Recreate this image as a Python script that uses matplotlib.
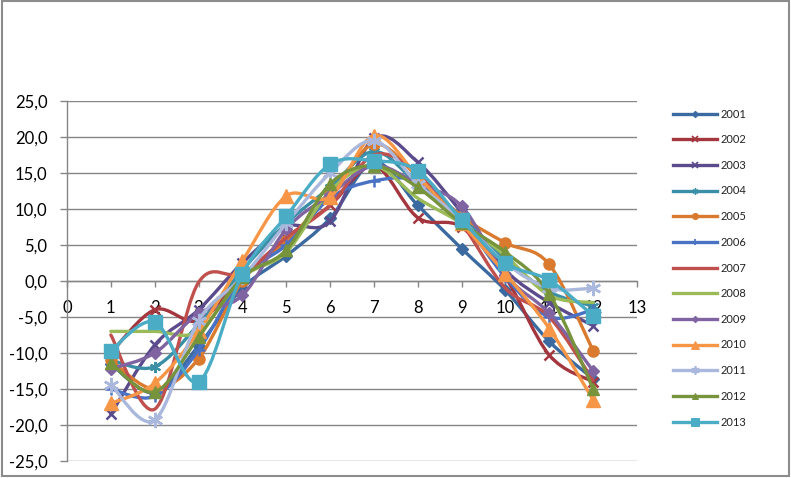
import matplotlib
matplotlib.use("Agg")
import matplotlib.pyplot as plt
from matplotlib.path import Path
from matplotlib.patches import PathPatch, Rectangle
from matplotlib.lines import Line2D
from matplotlib.ticker import FuncFormatter, MultipleLocator
import numpy as np

plt.rcParams["font.family"] = ["Lato", "DejaVu Sans"]

months = [1, 2, 3, 4, 5, 6, 7, 8, 9, 10, 11, 12]
years = ["2001", "2002", "2003", "2004", "2005", "2006", "2007",
         "2008", "2009", "2010", "2011", "2012", "2013"]

t2001 = [-11.5, -15.5, -9.0, -1.0, 3.5, 8.7, 16.5, 10.5, 4.5, -1.3, -8.4, -13.6]
t2002 = [-10.0, -4.0, -5.5, 0.5, 6.0, 10.5, 16.0, 8.8, 7.5, 0.5, -10.3, -14.0]
t2003 = [-18.5, -8.9, -4.0, 2.5, 7.5, 8.3, 19.8, 16.5, 9.5, 1.5, -3.0, -6.2]
t2004 = [-11.0, -11.9, -6.0, 1.5, 8.0, 13.0, 18.0, 13.5, 9.0, 3.0, -1.5, -3.5]
t2005 = [-11.0, -15.0, -10.8, 0.0, 5.5, 12.0, 19.0, 14.5, 9.0, 5.3, 2.3, -9.7]
t2006 = [-15.0, -16.0, -9.6, 0.5, 5.0, 11.5, 13.9, 13.8, 8.5, 0.5, -5.0, -4.0]
t2007 = [-7.5, -17.8, -0.2, 1.0, 6.0, 10.5, 17.5, 15.0, 8.0, -1.0, -5.0, -13.8]
t2008 = [-7.0, -7.0, -7.0, 0.5, 4.0, 12.5, 16.0, 11.5, 8.0, 3.5, -2.0, -3.0]
t2009 = [-12.2, -10.0, -4.5, -2.0, 7.2, 12.0, 16.0, 13.5, 10.4, 0.8, -4.5, -12.5]
t2010 = [-17.0, -14.2, -7.0, 2.8, 11.8, 11.7, 20.2, 14.5, 8.0, 1.0, -6.6, -16.5]
t2011 = [-14.4, -19.3, -5.5, 0.5, 8.0, 15.0, 19.5, 13.5, 8.5, 2.5, -1.0, -1.0]
t2012 = [-11.4, -15.4, -7.8, 0.5, 4.3, 13.5, 16.0, 13.0, 8.0, 4.0, -1.8, -15.0]
t2013 = [-9.7, -5.7, -14.0, 1.0, 9.0, 16.2, 16.7, 15.3, 8.5, 2.5, 0.1, -4.8]

series = [t2001, t2002, t2003, t2004, t2005, t2006, t2007,
          t2008, t2009, t2010, t2011, t2012, t2013]

colors = ["#3B6AA0", "#A3363E", "#5B4B8C", "#3A8FA6", "#D97A2E", "#4A72C4",
          "#C0504D", "#9BBB59", "#8064A2", "#F79646", "#A9B8DC", "#77933C",
          "#4BACC6"]
# (marker, size, edge width)
markers = [("D", 6, 1), ("x", 7, 1.8), ("x", 7, 1.8), ((6, 2, 0), 8, 1.5),
           ("o", 8, 1), ("+", 8, 1.8), (None, 0, 0), (None, 0, 0),
           ("D", 6, 1), ("^", 10, 1), ((6, 2, 0), 11, 1.8), ("^", 9, 1),
           ("s", 10, 1)]


def smooth_path(xs, ys):
    # Excel-like smoothed line: cubic Bezier through every point
    pts = np.column_stack([xs, ys]).astype(float)
    n = len(pts)
    verts = [pts[0]]
    codes = [Path.MOVETO]
    for i in range(n - 1):
        p0 = pts[max(i - 1, 0)]
        p1 = pts[i]
        p2 = pts[i + 1]
        p3 = pts[min(i + 2, n - 1)]
        c1 = p1 + (p2 - p0) / 6.0
        c2 = p2 - (p3 - p1) / 6.0
        verts += [c1, c2, p2]
        codes += [Path.CURVE4] * 3
    return Path(verts, codes)


fig = plt.figure(figsize=(7.91, 4.78), dpi=100)
ax = fig.add_axes([67 / 791, 1 - 461 / 478, (637 - 67) / 791, 360 / 478])

grid_c = "#868686"
handles = []
for i, vals in enumerate(series):
    c = colors[i]
    ax.add_patch(PathPatch(smooth_path(months, vals), fill=False,
                           edgecolor=c, lw=2.4, zorder=3 + i * 0.1,
                           capstyle="round", joinstyle="round"))
    m, ms, mew = markers[i]
    if m is not None:
        ax.plot(months, vals, ls="none", marker=m, ms=ms, mew=mew,
                color=c, mfc=c, mec=c, zorder=3.05 + i * 0.1)
    handles.append(Line2D([], [], color=c, lw=2.4, marker=m,
                          ms=ms * 0.55, mew=mew * 0.7, mfc=c, mec=c))

ax.set_xlim(0, 13)
ax.set_ylim(-25, 25)
ax.yaxis.set_major_locator(MultipleLocator(5))
ax.xaxis.set_major_locator(MultipleLocator(1))
ax.yaxis.set_major_formatter(
    FuncFormatter(lambda v, p: f"{v:.1f}".replace(".", ",")))
ax.xaxis.set_major_formatter(FuncFormatter(lambda v, p: f"{int(round(v))}"))
ax.grid(axis="y", color=grid_c, lw=1.0)
ax.set_axisbelow(True)

for s in ["top", "right"]:
    ax.spines[s].set_visible(False)
ax.spines["left"].set_color(grid_c)
ax.spines["bottom"].set_color(grid_c)
ax.spines["bottom"].set_position(("data", 0))
ax.spines["left"].set_linewidth(1.0)
ax.spines["bottom"].set_linewidth(1.0)

ax.tick_params(axis="y", length=5, width=1, color=grid_c, pad=9,
               labelsize=12, labelcolor="#000000")
ax.tick_params(axis="x", length=4, width=1, color=grid_c, pad=10,
               labelsize=12, labelcolor="#000000")

ax.legend(handles, years, loc="center left",
          bbox_to_anchor=(673 / 791, 1 - 268 / 478),
          bbox_transform=fig.transFigure, frameon=False, fontsize=8,
          handlelength=4.0, handletextpad=0.3, labelspacing=1.32,
          borderpad=0, borderaxespad=0, labelcolor="#222222")

fig.add_artist(Rectangle((0.002, 0.004), 0.995, 0.993,
                         transform=fig.transFigure, fill=False,
                         edgecolor="#8c8c8c", lw=1.5))

fig.savefig("out.png", dpi=100)
